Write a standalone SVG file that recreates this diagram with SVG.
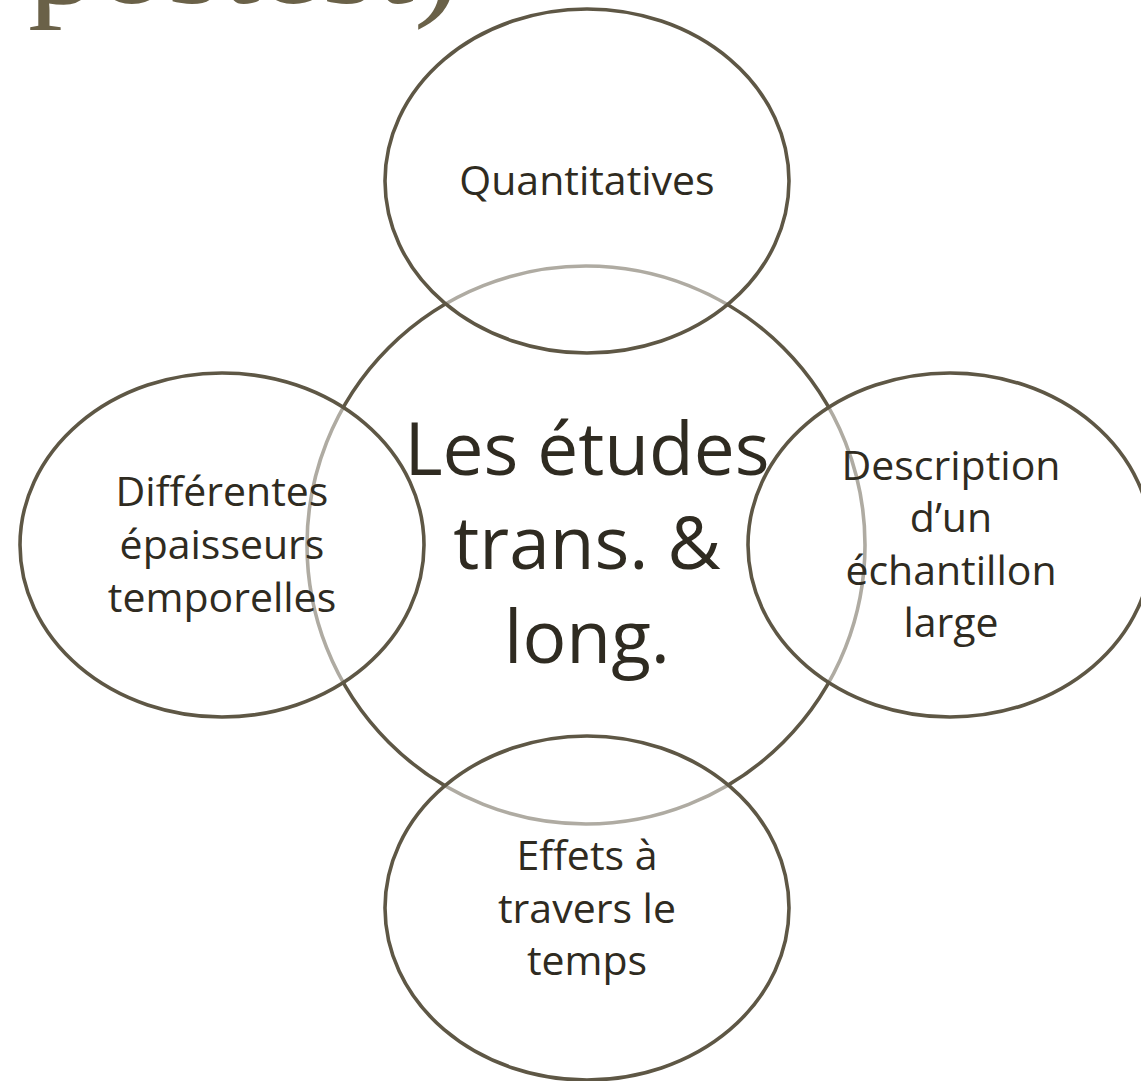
<svg xmlns="http://www.w3.org/2000/svg" width="1141" height="1081" viewBox="0 0 1141 1081">
<style>
.bg{fill:#ffffff}
.ring{stroke:#5e5745;stroke-width:3.6}
.core{fill:#ffffff}
.outer{fill:#ffffff;fill-opacity:0.5}
.lbl{font-family:"Open Sans","Noto Sans",sans-serif;fill:#2f2b21;text-anchor:middle}
.small{font-size:41px}
.big{font-size:73px}
.title{font-family:"Liberation Serif","DejaVu Serif",serif;font-size:124px;fill:#6a6148}
</style>
<rect class="bg" x="0" y="0" width="1141" height="1081"/>
<text class="title" x="28" y="3" textLength="432" lengthAdjust="spacingAndGlyphs">postest)</text>
<g id="center">
<circle class="ring core" cx="586" cy="545" r="279"/>
</g>
<g id="connectors"></g>
<g id="top">
<ellipse class="ring outer" cx="587" cy="181" rx="202" ry="172"/>
</g>
<g id="left">
<ellipse class="ring outer" cx="222" cy="545" rx="202" ry="172"/>
</g>
<g id="right">
<ellipse class="ring outer" cx="950" cy="545" rx="202" ry="172"/>
</g>
<g id="bottom">
<ellipse class="ring outer" cx="587" cy="908" rx="202" ry="172"/>
</g>
<g id="labels">
<text class="lbl big" x="587"><tspan x="587" y="475">Les études</tspan><tspan x="587" y="569">trans. &amp;</tspan><tspan x="587" y="663">long.</tspan></text>
<text class="lbl small"><tspan x="587" y="195">Quantitatives</tspan></text>
<text class="lbl small"><tspan x="222" y="506">Différentes</tspan><tspan x="222" y="559">épaisseurs</tspan><tspan x="222" y="612">temporelles</tspan></text>
<text class="lbl small"><tspan x="951" y="480">Description</tspan><tspan x="951" y="532">d’un</tspan><tspan x="951" y="585">échantillon</tspan><tspan x="951" y="637">large</tspan></text>
<text class="lbl small"><tspan x="587" y="870">Effets à</tspan><tspan x="587" y="923">travers le</tspan><tspan x="587" y="975">temps</tspan></text>
</g>
</svg>
